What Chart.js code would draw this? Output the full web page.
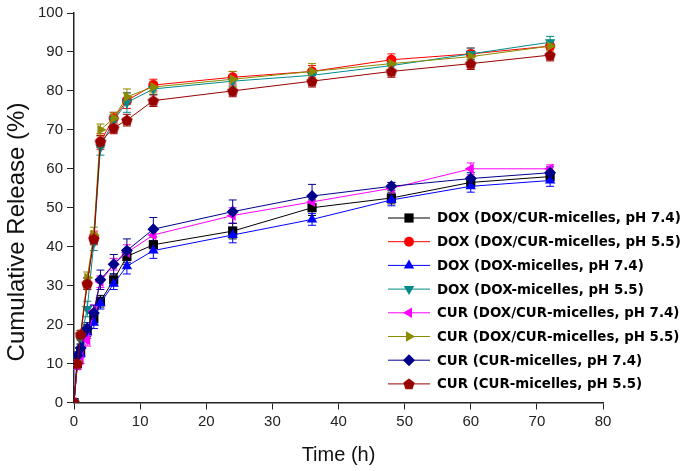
<!DOCTYPE html>
<html>
<head>
<meta charset="utf-8">
<script src="https://cdn.jsdelivr.net/npm/chart.js@4.4.1/dist/chart.umd.min.js"></script>
<style>
  html, body { margin: 0; padding: 0; background: #fff; }
  #wrap { width: 685px; height: 471px; }
</style>
</head>
<body>
<div id="wrap"><canvas id="releaseChart" width="685" height="471"></canvas></div>
<script>
const times = [0, 0.5, 1, 2, 3, 4, 6, 8, 12, 24, 36, 48, 60, 72];

const seriesNames = [
    'DOX (DOX/CUR-micelles, pH 7.4)',
    'DOX (DOX/CUR-micelles, pH 5.5)',
    'DOX (DOX-micelles, pH 7.4)',
    'DOX (DOX-micelles, pH 5.5)',
    'CUR (DOX/CUR-micelles, pH 7.4)',
    'CUR (DOX/CUR-micelles, pH 5.5)',
    'CUR (CUR-micelles, pH 7.4)',
    'CUR (CUR-micelles, pH 5.5)'
];

// cumulative release (%)
const doxDual74 = [0, 10, 13, 18.5, 21.5, 26, 31.5, 37.5, 40.5, 44, 50, 52.5, 56.5, 58];
const doxDual55 = [0, 10, 17, 30.5, 42.5, 67, 73, 77.5, 81.5, 83.5, 85, 88, 89.5, 91.5];
const doxMic74 = [0, 10.5, 12.5, 18, 20.5, 25.5, 30.5, 35, 39, 43, 47, 52, 55.5, 57];
const doxMic55 = [0, 9.5, 16, 24, 41, 65.5, 72.5, 77, 80.5, 82.5, 84, 86.5, 89.5, 92.5];
const curDual74 = [0, 9.5, 11, 16, 23.5, 31, 35.5, 38.5, 43, 48, 51.5, 55, 60, 60];
const curDual55 = [0, 10.5, 17.5, 32, 43, 70, 73, 78.5, 81, 83, 85, 87, 88.8, 91.5];
const curMic74 = [0, 12, 14, 19, 23, 31.5, 35.5, 39, 44.5, 49, 53, 55.5, 57.5, 59];
const curMic55 = [0, 10, 17.5, 30.5, 42, 67, 70.5, 72.5, 77.5, 80, 82.5, 85, 87, 89.2];

// error bars (+/-)
const errDoxDual74 = [0, 1, 1, 1.5, 1.5, 1.5, 1.5, 2, 2, 2, 2, 1.5, 1.5, 1.5];
const errDoxDual55 = [0, 1, 1, 1.5, 1.5, 2, 1.5, 2, 1.5, 1.5, 1.5, 1.5, 1.5, 1];
const errDoxMic74 = [0, 1, 1, 1.5, 1.5, 1.5, 1.5, 2, 2, 2, 1.5, 1.5, 1.5, 1.5];
const errDoxMic55 = [0, 1, 1, 2, 2, 2, 1.5, 2.5, 1.5, 1.5, 1.5, 1.5, 1.5, 1.5];
const errCurDual74 = [0, 1, 1, 1.5, 1.5, 1.5, 1.5, 2, 1.5, 2, 1.5, 1.5, 1.5, 1];
const errCurDual55 = [0, 1, 1, 1.5, 2, 1.5, 1.5, 2, 1.5, 2, 2, 1.5, 1.5, 1.5];
const errCurMic74 = [0, 1, 1, 1.5, 2, 2.5, 2.5, 3, 3, 3, 3, 1, 1.5, 1.5];
const errCurMic55 = [0, 1, 1, 1.5, 1.5, 1.5, 1.5, 1.5, 1.5, 1.5, 1.5, 1.5, 1.5, 1.5];

const seriesValues = [doxDual74, doxDual55, doxMic74, doxMic55, curDual74, curDual55, curMic74, curMic55];
const seriesErrors = [errDoxDual74, errDoxDual55, errDoxMic74, errDoxMic55, errCurDual74, errCurDual55, errCurMic74, errCurMic55];

const colors = ['#000000', '#ff0000', '#0000ff', '#008b8b', '#ff00ff', '#8b8b00', '#00008b', '#990000'];

// pentagon marker (not built in)
function makePentagon(color, r) {
    const c = document.createElement('canvas');
    const s = Math.ceil(r * 2 + 2);
    c.width = s; c.height = s;
    const g = c.getContext('2d');
    g.fillStyle = color;
    g.beginPath();
    for (let k = 0; k < 5; k++) {
        const a = -Math.PI / 2 + k * 2 * Math.PI / 5;
        const px = s / 2 + r * Math.cos(a);
        const py = s / 2 + 0.5 + r * Math.sin(a);
        if (k === 0) g.moveTo(px, py); else g.lineTo(px, py);
    }
    g.closePath();
    g.fill();
    return c;
}

const markers = [
    { style: 'rect', rotation: 0, radius: 6.5 },
    { style: 'circle', rotation: 0, radius: 5 },
    { style: 'triangle', rotation: 0, radius: 6 },
    { style: 'triangle', rotation: 180, radius: 6 },
    { style: 'triangle', rotation: -90, radius: 6 },
    { style: 'triangle', rotation: 90, radius: 6 },
    { style: 'rectRot', rotation: 0, radius: 6 },
    { style: makePentagon(colors[7], 6), rotation: 0, radius: 6 }
];

const datasets = seriesNames.map((name, i) => ({
    label: name,
    data: times.map((t, j) => ({ x: t, y: seriesValues[i][j] })),
    borderColor: colors[i],
    backgroundColor: colors[i],
    borderWidth: 1,
    pointStyle: markers[i].style,
    rotation: markers[i].rotation,
    pointRadius: markers[i].radius,
    pointBorderWidth: 0,
    showLine: true,
    order: seriesNames.length - i
}));

const errorBars = {
    id: 'errorBars',
    beforeDatasetsDraw(chart) {
        const c = chart.ctx;
        const xs = chart.scales.x, ys = chart.scales.y;
        c.save();
        c.lineWidth = 1;
        seriesValues.forEach((vals, i) => {
            c.strokeStyle = colors[i];
            vals.forEach((v, j) => {
                const e = seriesErrors[i][j];
                if (!e) return;
                const px = xs.getPixelForValue(times[j]);
                const top = ys.getPixelForValue(v + e);
                const bot = ys.getPixelForValue(v - e);
                c.beginPath();
                c.moveTo(px, top); c.lineTo(px, bot);
                c.moveTo(px - 4, top); c.lineTo(px + 4, top);
                c.moveTo(px - 4, bot); c.lineTo(px + 4, bot);
                c.stroke();
            });
        });
        c.restore();
    }
};

const sideLegend = {
    id: 'sideLegend',
    afterDraw(chart) {
        const c = chart.ctx;
        c.save();
        c.font = 'bold 13.4px "DejaVu Sans", sans-serif';
        c.textBaseline = 'middle';
        seriesNames.forEach((name, i) => {
            const y = 218 + i * 23.7;
            c.strokeStyle = colors[i];
            c.fillStyle = colors[i];
            c.lineWidth = 1;
            c.beginPath();
            c.moveTo(388, y); c.lineTo(430, y);
            c.stroke();
            Chart.helpers.drawPoint(c, {
                pointStyle: markers[i].style,
                rotation: markers[i].rotation,
                radius: markers[i].radius,
                borderWidth: 0
            }, 409, y);
            c.fillStyle = '#000';
            c.fillText(name, 437, y + 1);
        });
        // y axis title
        c.font = '24px "Liberation Sans", Arial, sans-serif';
        c.fillStyle = '#111';
        c.textAlign = 'center';
        c.textBaseline = 'middle';
        c.translate(17, 232);
        c.rotate(-Math.PI / 2);
        c.fillText('Cumulative Release (%)', 0, 0);
        c.restore();
    }
};

new Chart(document.getElementById('releaseChart'), {
    type: 'scatter',
    data: { datasets },
    plugins: [errorBars, sideLegend],
    options: {
        responsive: false,
        animation: false,
        layout: { padding: { top: 12, right: 82, left: 0, bottom: 0 } },
        plugins: { legend: { display: false }, tooltip: { enabled: false } },
        scales: {
            x: {
                type: 'linear',
                min: 0, max: 80,
                ticks: { stepSize: 10, color: '#222', padding: 3, font: { family: '"Liberation Sans", Arial', size: 15 } },
                grid: { drawOnChartArea: false, drawTicks: true, tickLength: 7, color: '#222' },
                border: { color: '#222', width: 1.5 },
                title: { display: true, text: 'Time (h)', color: '#111', padding: { top: 6 }, font: { family: '"Liberation Sans", Arial', size: 20 } },
                afterFit(s) { s.height = 68.5; }
            },
            y: {
                min: 0, max: 100,
                ticks: { stepSize: 10, color: '#222', padding: 4, font: { family: '"Liberation Sans", Arial', size: 15 } },
                grid: { drawOnChartArea: false, drawTicks: true, tickLength: 7, color: '#222' },
                border: { color: '#222', width: 1.5 },
                afterFit(s) { s.width = 74; }
            }
        }
    }
});
</script>
</body>
</html>
